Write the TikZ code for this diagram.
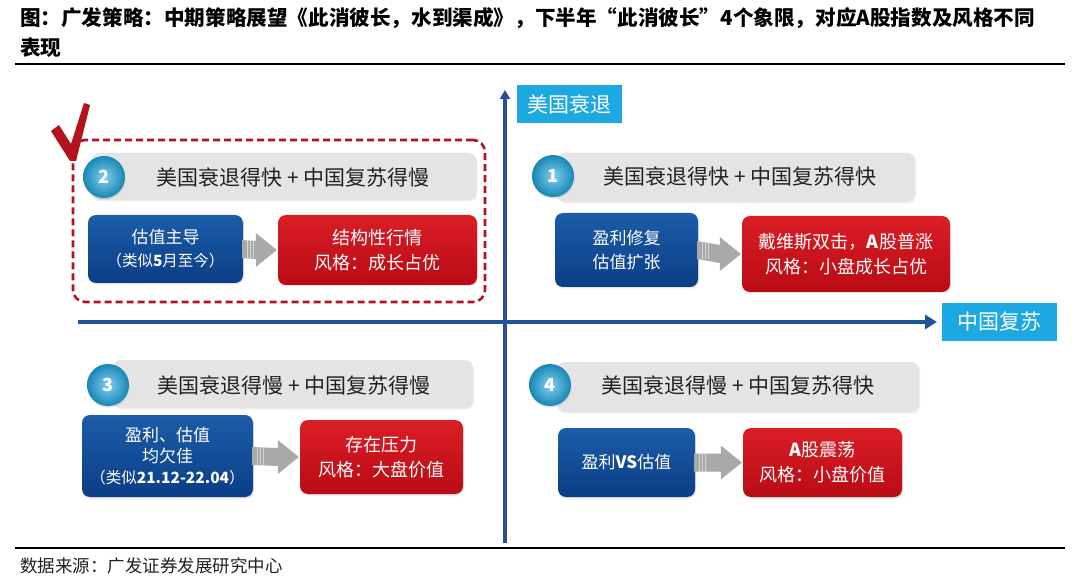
\documentclass[tikz,border=0pt]{standalone}
\usepackage{fontspec}
\setmainfont{Noto Sans CJK SC}
\usetikzlibrary{calc,arrows.meta,shadows}
\definecolor{boxblueT}{HTML}{1C5CA8}
\definecolor{boxblueB}{HTML}{0B3E86}
\definecolor{boxredT}{HTML}{DA1E26}
\definecolor{boxredB}{HTML}{B90B14}
\definecolor{barg}{HTML}{E4E4E4}
\definecolor{cyanl}{HTML}{1EA8E2}
\definecolor{axish}{HTML}{1D5596}
\definecolor{axisv}{HTML}{2E4C98}
\definecolor{dashred}{HTML}{B3131C}
\definecolor{arrg}{HTML}{A9A9A9}
\definecolor{txtg}{HTML}{222222}
\begin{document}
\begin{tikzpicture}[x=1pt,y=-1pt,
  bluebox/.style={rounded corners=8pt, top color=boxblueT, bottom color=boxblueB, text=white, align=center, inner sep=0pt, font=\fontsize{17}{24}\selectfont, drop shadow={opacity=0.2, shadow xshift=1pt, shadow yshift=-1.5pt}},
  redbox/.style={rounded corners=8pt, top color=boxredT, bottom color=boxredB, text=white, align=center, inner sep=0pt, font=\fontsize{18}{25}\selectfont, drop shadow={opacity=0.2, shadow xshift=1pt, shadow yshift=-1.5pt}},
  headbar/.style={rounded corners=8pt, fill=barg, inner sep=0pt, drop shadow={opacity=0.12, shadow xshift=1pt, shadow yshift=-1.5pt}},
  headtxt/.style={text=txtg, inner sep=0pt, font=\fontsize{21}{24}\selectfont},
  numball/.style={circle, inner color=cyanl!55!white, outer color=cyanl!80!black, minimum size=42pt, inner sep=0pt, text=white, font=\fontsize{18}{20}\selectfont\bfseries, drop shadow={opacity=0.25, shadow xshift=0.5pt, shadow yshift=-1.5pt}},
  axislbl/.style={fill=cyanl, text=white, inner sep=0pt, font=\fontsize{21}{24}\selectfont},
  axisline/.style={line width=4.5pt, -{Triangle[length=12pt,width=14pt]}},
]
\useasboundingbox[fill=white] (0,0) rectangle (1080,580);

% title
\node[anchor=west, inner sep=0pt, font=\fontsize{20.6}{22}\selectfont\bfseries] (title1) at (20,18) {图：广发策略：中期策略展望《此消彼长，水到渠成》，下半年“此消彼长”4个象限，对应A股指数及风格不同};
\node[anchor=west, inner sep=0pt, font=\fontsize{20.6}{22}\selectfont\bfseries] (title2) at (20,48) {表现};
\draw[line width=1.8pt] (15,64) -- (1065,64);

% axes
\coordinate (vb) at (505,543);
\coordinate (vt) at (505,90);
\draw[axisline, axisv, line width=4pt, -{Triangle[length=9pt,width=10pt]}] (vb) -- (vt);
\coordinate (hl) at (78,322);
\coordinate (hr) at (937,322);
\draw[axisline, axish] (hl) -- (hr);
\node[axislbl, minimum width=105pt, minimum height=38pt] (ylbl) at (569.5,104) {美国衰退};
\node[axislbl, minimum width=115pt, minimum height=38pt] (xlbl) at (999.5,322) {中国复苏};

% quadrant 2 (top-left) highlight
\node[draw=dashred, line width=2.6pt, dash pattern=on 7pt off 4pt, rounded corners=12pt, minimum width=412pt, minimum height=162pt, inner sep=0pt] (hl2) at (279,221) {};
\fill[dashred] (51,131) -- (59,125) -- (71,144) -- (84,103) -- (90,105) -- (76,161) -- (70,161) -- cycle;

% quadrant 2
\node[headbar, minimum width=385pt, minimum height=47pt] (bar2) at (284,176.5) {};
\node[numball] (n2) at (104,177) {2};
\node[headtxt] (h2) at (293,178) {美国衰退得快 + 中国复苏得慢};
\node[bluebox, minimum width=155pt, minimum height=68pt] (b2) at (165.5,249) {估值主导\\[-1pt]{\fontsize{15.5}{20}\selectfont （类似\textbf{5}月至今）}};
\node[redbox, minimum width=199pt, minimum height=70pt] (r2) at (377.5,250) {结构性行情\\风格：成长占优};

% quadrant 1
\node[headbar, minimum width=358pt, minimum height=49pt] (bar1) at (736,177.5) {};
\node[numball] (n1) at (553,176) {1};
\node[headtxt] (h1) at (740,177) {美国衰退得快 + 中国复苏得快};
\node[bluebox, minimum width=143pt, minimum height=74pt] (b1) at (626.5,250) {盈利修复\\估值扩张};
\node[redbox, minimum width=208pt, minimum height=76pt] (r1) at (846,254) {戴维斯双击，\textbf{A}股普涨\\风格：小盘成长占优};

% quadrant 3
\node[headbar, minimum width=360pt, minimum height=48pt] (bar3) at (293,384) {};
\node[numball] (n3) at (108,385) {3};
\node[headtxt] (h3) at (294,385) {美国衰退得慢 + 中国复苏得慢};
\node[bluebox, minimum width=171pt, minimum height=82pt] (b3) at (167.5,456) {盈利、估值\\[-3pt]均欠佳\\[-3pt]{\fontsize{15.5}{20}\selectfont （类似\textbf{21.12-22.04}）}};
\node[redbox, minimum width=163pt, minimum height=74pt] (r3) at (381.5,457) {存在压力\\风格：大盘价值};

% quadrant 4
\node[headbar, minimum width=362pt, minimum height=50pt] (bar4) at (738,387) {};
\node[numball] (n4) at (550,385) {4};
\node[headtxt] (h4) at (738,386) {美国衰退得慢 + 中国复苏得快};
\node[bluebox, minimum width=137pt, minimum height=69pt] (b4) at (626.5,462.5) {盈利\textbf{VS}估值};
\node[redbox, minimum width=159pt, minimum height=69pt] (r4) at (822.5,462.5) {\textbf{A}股震荡\\风格：小盘价值};

% block arrows between boxes
\foreach \b/\r in {b2/r2,b1/r1,b3/r3,b4/r4}{
  \fill[arrg] ($(\b.east)+(-1,-9)$) -- ($(\r.west)+(-22,-9)$) -- ($(\r.west)+(-22,-17)$) -- ($(\r.west)+(-1,0)$) -- ($(\r.west)+(-22,17)$) -- ($(\r.west)+(-22,9)$) -- ($(\b.east)+(-1,9)$) -- cycle;
  \foreach \k in {4,7,10}{\draw[white, opacity=0.5, line width=0.6pt] ($(\b.east)+(\k,-9)$) -- ($(\b.east)+(\k,9)$);}
}

% footer
\draw[line width=1.4pt] (15,548) -- (1065,548);
\node[anchor=west, inner sep=0pt, text=txtg, font=\fontsize{17.5}{20}\selectfont] (src) at (20,566) {数据来源：广发证券发展研究中心};
\end{tikzpicture}
\end{document}
